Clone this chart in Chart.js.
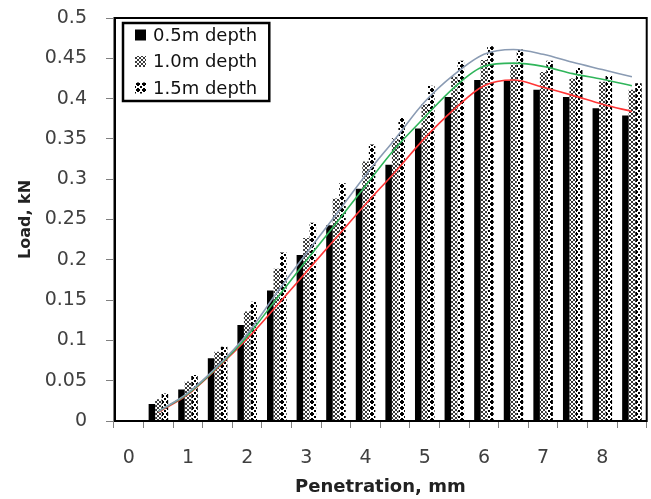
<!DOCTYPE html>
<html lang="en">
<head>
<meta charset="UTF-8">
<title>Load vs penetration</title>
<script src="https://cdn.jsdelivr.net/npm/chart.js"></script>
<style>
    body { margin: 0; background: #fff; }
    #wrap { width: 651px; height: 499px; }
</style>
</head>
<body>
<div id="wrap"><canvas id="loadChart"></canvas></div>
<script>
// penetration steps (mm), every 0.5 mm
const penetration = ['0', '0.5', '1', '1.5', '2', '2.5', '3', '3.5', '4', '4.5',
                     '5', '5.5', '6', '6.5', '7', '7.5', '8', '8.5'];

// measured load (kN) for each depth
const load05 = [0, 0.021, 0.039, 0.078, 0.119, 0.162, 0.206, 0.243, 0.288, 0.318,
                0.363, 0.402, 0.423, 0.422, 0.411, 0.402, 0.388, 0.379];
const load10 = [0, 0.027, 0.049, 0.086, 0.136, 0.189, 0.227, 0.276, 0.322, 0.351,
                0.393, 0.427, 0.448, 0.442, 0.433, 0.425, 0.421, 0.411];
const load15 = [0, 0.034, 0.057, 0.092, 0.148, 0.209, 0.246, 0.295, 0.343, 0.376,
                0.416, 0.447, 0.465, 0.461, 0.447, 0.438, 0.428, 0.419];

// trend curves through each series
const trend05 = [null, 0.011, 0.033, 0.066, 0.102, 0.143, 0.185, 0.227, 0.269, 0.309,
                 0.351, 0.387, 0.416, 0.423, 0.414, 0.404, 0.393, 0.384];
const trend10 = [null, 0.012, 0.034, 0.067, 0.105, 0.152, 0.199, 0.245, 0.292, 0.338,
                 0.377, 0.414, 0.440, 0.444, 0.440, 0.431, 0.424, 0.416];
const trend15 = [null, 0.012, 0.035, 0.068, 0.108, 0.159, 0.208, 0.256, 0.305, 0.350,
                 0.396, 0.430, 0.455, 0.461, 0.455, 0.445, 0.436, 0.427];

const yTicks = [0, 0.05, 0.1, 0.15, 0.2, 0.25, 0.3, 0.35, 0.4, 0.45, 0.5];

const canvas = document.getElementById('loadChart');
const ctx = canvas.getContext('2d');

// small bitmap fills for the hatched bars
function makePattern(rows, ink) {
    const tile = document.createElement('canvas');
    tile.width = rows[0].length;
    tile.height = rows.length;
    const g = tile.getContext('2d');
    g.fillStyle = '#fff';
    g.fillRect(0, 0, tile.width, tile.height);
    g.fillStyle = ink;
    rows.forEach((r, y) => {
        [...r].forEach((ch, x) => { if (ch === 'x') g.fillRect(x, y, 1, 1); });
    });
    return ctx.createPattern(tile, 'repeat');
}

const dots10 = makePattern([
    '.xx.',
    'x..x',
    'x..x',
    '.xx.'
], '#3a3a3a');

const dots15 = makePattern([
    'xx..xx',
    'x....x',
    '..xx..',
    '..xx..',
    'x....x',
    'xx..xx'
], '#000');

Chart.defaults.font.family = '"DejaVu Sans", sans-serif';

// frame around the plot plus a boxed legend in the upper left
const frameAndLegend = {
    id: 'frameAndLegend',
    afterDraw(chart) {
        const c = chart.ctx;
        const a = chart.chartArea;
        c.save();
        c.strokeStyle = '#000';
        c.lineWidth = 2;
        c.strokeRect(a.left + 1, a.top, a.right - a.left - 1, a.bottom - a.top);

        const bars = chart.data.datasets.filter(d => d.type !== 'line');
        c.font = '18px "DejaVu Sans"';
        const textW = Math.max(...bars.map(d => c.measureText(d.label).width));
        const bx = a.left + 9, by = a.top + 5;
        const bw = 30 + textW + 12, bh = 78;
        c.fillStyle = '#fff';
        c.fillRect(bx, by, bw, bh);
        c.lineWidth = 2.5;
        c.strokeRect(bx, by, bw, bh);
        c.textBaseline = 'middle';
        bars.forEach((d, i) => {
            const cy = by + 12 + i * 26.5;
            c.fillStyle = d.backgroundColor;
            c.fillRect(bx + 12, cy - 5.5, 11, 11);
            c.fillStyle = '#111';
            c.fillText(d.label, bx + 30, cy + 1);
        });
        c.restore();
    }
};

new Chart(ctx, {
    type: 'bar',
    data: {
        labels: penetration,
        datasets: [
            { type: 'line', label: 'trend 1.5m', data: trend15, borderColor: '#8a9bb3',
              borderWidth: 1.6, pointRadius: 0, cubicInterpolationMode: 'monotone', order: 0 },
            { type: 'line', label: 'trend 1.0m', data: trend10, borderColor: '#2fb55a',
              borderWidth: 1.6, pointRadius: 0, cubicInterpolationMode: 'monotone', order: 0 },
            { type: 'line', label: 'trend 0.5m', data: trend05, borderColor: '#ff3535',
              borderWidth: 1.6, pointRadius: 0, cubicInterpolationMode: 'monotone', order: 0 },
            { label: '0.5m depth', data: load05, backgroundColor: '#000', order: 1 },
            { label: '1.0m depth', data: load10, backgroundColor: dots10, order: 1 },
            { label: '1.5m depth', data: load15, backgroundColor: dots15, order: 1 }
        ]
    },
    options: {
        responsive: true,
        maintainAspectRatio: false,
        animation: false,
        datasets: {
            bar: { categoryPercentage: 0.66, barPercentage: 1.0 }
        },
        layout: { padding: { top: 18, right: 3, left: 0, bottom: 0 } },
        plugins: {
            legend: { display: false },
            tooltip: { enabled: false }
        },
        scales: {
            x: {
                grid: { display: true, drawOnChartArea: false, tickLength: 7, color: '#808080', lineWidth: 1 },
                border: { display: true, color: '#808080', width: 1.5 },
                ticks: {
                    autoSkip: false,
                    maxRotation: 0,
                    padding: 19,
                    color: '#404040',
                    font: { size: 19 },
                    callback: function(v, i) {
                        const s = penetration[i];
                        return s.indexOf('.') === -1 ? s : '';
                    }
                },
                title: {
                    display: true,
                    text: 'Penetration, mm',
                    color: '#222',
                    font: { size: 18, weight: 'bold' },
                    padding: { top: 0, bottom: 1 }
                },
                afterFit: s => { s.height = 78; }
            },
            y: {
                min: 0,
                max: 0.5,
                afterBuildTicks: s => { s.ticks = yTicks.map(v => ({ value: v })); },
                grid: { display: true, drawOnChartArea: false, tickLength: 8, color: '#808080' },
                border: { display: true, color: '#808080', width: 1.5 },
                ticks: {
                    padding: 19,
                    color: '#404040',
                    font: { size: 19 },
                    callback: v => String(Number(v.toFixed(2)))
                },
                title: {
                    display: true,
                    text: 'Load, kN',
                    color: '#222',
                    font: { size: 16, weight: 'bold' },
                    padding: { top: 16, bottom: 0 }
                },
                afterFit: s => {
                    s.width = 114;
                    // the top label may overhang; the layout padding covers it
                    s.paddingTop = 0;
                    s.paddingBottom = 0;
                }
            }
        }
    },
    plugins: [frameAndLegend]
});
</script>
</body>
</html>
